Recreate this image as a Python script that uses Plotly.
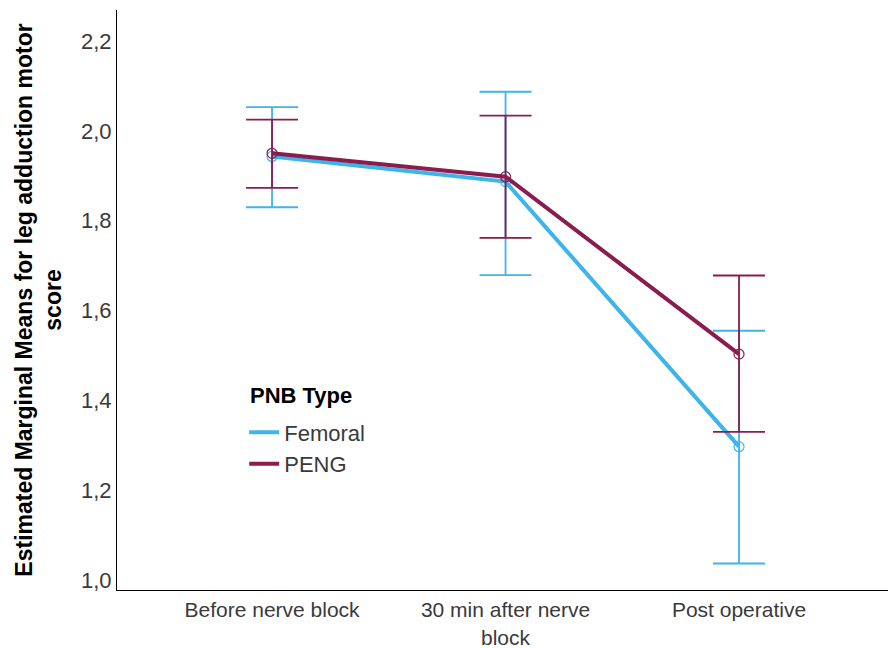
import plotly.graph_objects as go

categories = ["Before nerve block", "30 min after nerve<br>block", "Post operative"]
femoral_mean = [1.943, 1.887, 1.297]
femoral_lo = [1.830, 1.679, 1.037]
femoral_hi = [2.053, 2.087, 1.555]
peng_mean = [1.950, 1.898, 1.503]
peng_lo = [1.873, 1.762, 1.330]
peng_hi = [2.025, 2.034, 1.678]
yticks = [1.0, 1.2, 1.4, 1.6, 1.8, 2.0, 2.2]
ytick_labels = ["1,0", "1,2", "1,4", "1,6", "1,8", "2,0", "2,2"]

FEM = "#3DB4EA"
PENG = "#8A1C4E"

x = [0, 1, 2]
fig = go.Figure()

def add_series(name, mean, lo, hi, color):
    fig.add_trace(go.Scatter(
        x=x, y=mean, mode="lines+markers", name=name, showlegend=False,
        line=dict(color=color, width=4),
        marker=dict(symbol="circle-open", size=10, color=color, line=dict(width=1.2)),
        error_y=dict(type="data", symmetric=False,
                     array=[h - m for h, m in zip(hi, mean)],
                     arrayminus=[m - l for m, l in zip(mean, lo)],
                     color=color, thickness=1.8, width=26),
    ))
    fig.add_trace(go.Scatter(
        x=[None], y=[None], mode="lines", name=name, showlegend=True,
        line=dict(color=color, width=4),
    ))

add_series("Femoral", femoral_mean, femoral_lo, femoral_hi, FEM)
add_series("PENG", peng_mean, peng_lo, peng_hi, PENG)

fig.add_annotation(
    text="<b>PNB Type</b>", xref="paper", yref="paper", x=0.170, y=0.336,
    xanchor="left", yanchor="middle", showarrow=False,
    font=dict(size=22, color="black"),
)

fig.update_layout(
    width=889, height=648,
    margin=dict(l=117, r=1, t=10, b=58),
    paper_bgcolor="white", plot_bgcolor="white",
    font=dict(family="Liberation Sans, Arial, sans-serif", size=22, color="#3a3a3a"),
    showlegend=True,
    legend=dict(
        x=0.165, y=0.308, xanchor="left", yanchor="top",
        bgcolor="rgba(0,0,0,0)", font=dict(size=22, color="#3a3a3a"),
        itemwidth=30, tracegroupgap=0,
    ),
    xaxis=dict(
        tickmode="array", tickvals=x, ticktext=categories,
        range=[-0.664, 2.638], showgrid=False, zeroline=False,
        showline=True, linecolor="black", linewidth=1, ticks="",
        tickfont=dict(size=21, color="#3a3a3a"), ticklabelstandoff=1,
        automargin=False,
    ),
    yaxis=dict(
        tickmode="array", tickvals=yticks, ticktext=ytick_labels,
        range=[0.978, 2.269], showgrid=False, zeroline=False,
        showline=True, linecolor="black", linewidth=1, ticks="",
        tickfont=dict(size=22, color="#3a3a3a"),
        title=dict(text="<b>Estimated Marginal Means for leg adduction motor<br>score</b>",
                   font=dict(size=23, color="black"), standoff=12),
    ),
)

fig.write_html("out.html", config={"displayModeBar": False},
               post_script="document.body.style.margin='0';")
